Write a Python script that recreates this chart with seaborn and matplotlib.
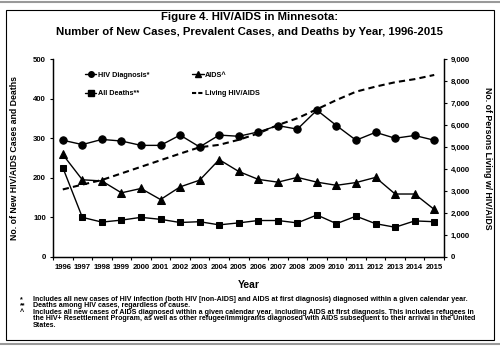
import matplotlib
matplotlib.use('Agg')
import matplotlib.pyplot as plt
from matplotlib.patches import Rectangle
from matplotlib.lines import Line2D
from matplotlib.ticker import FuncFormatter, MultipleLocator
import seaborn as sns
import pandas as pd
import numpy as np

years = list(range(1996, 2016))
hiv_diagnosis = [295, 284, 297, 293, 282, 282, 308, 278, 308, 305,
                 316, 332, 323, 371, 332, 295, 315, 300, 307, 295]
aids = [259, 195, 192, 162, 173, 145, 177, 194, 246, 216,
        196, 189, 201, 189, 181, 188, 201, 159, 159, 120]
all_deaths = [226, 100, 88, 93, 100, 95, 87, 89, 81, 86,
              92, 92, 86, 106, 84, 103, 84, 75, 91, 89]
living = [3070, 3290, 3500, 3800, 4100, 4400, 4700, 4990, 5100, 5330,
          5620, 6000, 6310, 6720, 7140, 7520, 7750, 7950, 8090, 8280]

df = pd.DataFrame({'year': years, 'hiv': hiv_diagnosis, 'aids': aids,
                   'deaths': all_deaths, 'living': living})

sns.set_style('white')
plt.rcParams['font.family'] = ['Liberation Sans', 'DejaVu Sans']
plt.rcParams['font.weight'] = 'bold'
for k in ['text.color', 'axes.labelcolor', 'xtick.color', 'ytick.color']:
    plt.rcParams[k] = 'black'

fig = plt.figure(figsize=(5, 3.5), dpi=100)
ax = fig.add_axes([0.106, 0.266, 0.782, 0.565])
ax2 = ax.twinx()

lw = 1.0
sns.lineplot(data=df, x='year', y='hiv', ax=ax, color='black', lw=lw,
             marker='o', markersize=5.3, markeredgecolor='black')
sns.lineplot(data=df, x='year', y='aids', ax=ax, color='black', lw=lw,
             marker='^', markersize=5.8, markeredgecolor='black')
sns.lineplot(data=df, x='year', y='deaths', ax=ax, color='black', lw=lw,
             marker='s', markersize=4.8, markeredgecolor='black')
sns.lineplot(data=df, x='year', y='living', ax=ax2, color='black', lw=1.5,
             linestyle=(0, (3, 2)))

ax.set_xlim(1995.5, 2015.5)
ax.set_ylim(0, 500)
ax2.set_ylim(0, 9000)
ax.set_xticks(years)
ax.set_xticklabels([str(y) for y in years], fontsize=5.6, fontweight='bold')
ax.xaxis.set_minor_locator(MultipleLocator(1, offset=0.5))
ax.tick_params(axis='x', which='major', length=0, pad=5)
ax.tick_params(axis='x', which='minor', length=2.5, width=0.8, direction='out', bottom=True)
ax.set_yticks(range(0, 501, 100))
ax.tick_params(axis='y', length=2, width=0.8, direction='out', left=True, labelsize=5.6, pad=3)
ax2.set_yticks(range(0, 9001, 1000))
ax2.yaxis.set_major_formatter(FuncFormatter(lambda v, p: f'{int(v):,}'))
ax2.tick_params(axis='y', length=2, width=0.8, direction='out', right=True, labelsize=5.6, pad=3)
for a in (ax, ax2):
    for lab in a.get_yticklabels():
        lab.set_fontweight('bold')

for a in (ax, ax2):
    a.spines['top'].set_visible(False)
    for s in a.spines.values():
        s.set_color('black')
        s.set_linewidth(0.9)

ax.set_xlabel('Year', fontsize=7.5, fontweight='bold')
ax.xaxis.set_label_coords(0.5, -0.115)
ax.set_ylabel('No. of New HIV/AIDS Cases and Deaths', fontsize=6.3, fontweight='bold',
              va='center')
ax.yaxis.set_label_coords(-0.098, 0.5)
ax2.set_ylabel('No. of Persons Living w/ HIV/AIDS', fontsize=6.3, fontweight='bold',
               rotation=270, va='center')
ax2.yaxis.set_label_coords(1.11, 0.5)

handles = [
    Line2D([], [], color='black', lw=lw, marker='o', markersize=4),
    Line2D([], [], color='black', lw=lw, marker='s', markersize=3.8),
    Line2D([], [], color='black', lw=lw, marker='^', markersize=4.5),
    Line2D([], [], color='black', lw=1.5, linestyle=(0, (2, 1))),
]
labels = ['HIV Diagnosis*', 'All Deaths**', 'AIDS^', 'Living HIV/AIDS']
leg = ax2.legend(handles, labels, ncol=2, frameon=False, fontsize=5.2,
                 loc='upper left', bbox_to_anchor=(0.065, 0.97),
                 handlelength=1.6, handletextpad=0.2, columnspacing=5.9,
                 labelspacing=1.6)
for t in leg.get_texts():
    t.set_fontweight('bold')
    t.set_color('black')

fig.text(0.5, 1 - 17 / 350, 'Figure 4. HIV/AIDS in Minnesota:', ha='center', va='center',
         fontsize=8.2, fontweight='bold')
fig.text(0.5, 1 - 32 / 350, 'Number of New Cases, Prevalent Cases, and Deaths by Year, 1996-2015',
         ha='center', va='center', fontsize=8.2, fontweight='bold')

notes = [
    ('*', 'Includes all new cases of HIV infection (both HIV [non-AIDS] and AIDS at first diagnosis) diagnosed within a given calendar year.'),
    ('**', 'Deaths among HIV cases, regardless of cause.'),
    ('^', 'Includes all new cases of AIDS diagnosed within a given calendar year, including AIDS at first diagnosis. This includes refugees in'),
    ('', 'the HIV+ Resettlement Program, as well as other refugee/immigrants diagnosed with AIDS subsequent to their arrival in the United'),
    ('', 'States.'),
]
for i, (sym, txt) in enumerate(notes):
    y = 1 - (299.5 + i * 6.4) / 350
    if sym:
        fig.text(20 / 500, y, sym, ha='left', va='center', fontsize=5.1, fontweight='bold')
    fig.text(33 / 500, y, txt, ha='left', va='center', fontsize=5.1, fontweight='bold')

fig.patches.append(Rectangle((6 / 500, 1 - 340 / 350), 488 / 500, 330 / 350,
                             transform=fig.transFigure, fill=False,
                             edgecolor='black', lw=0.8))
fig.lines.append(Line2D([0, 1], [1 - 1.5 / 350, 1 - 1.5 / 350], transform=fig.transFigure,
                        color='#999999', lw=1.5))
fig.lines.append(Line2D([0, 1], [1 - 344 / 350, 1 - 344 / 350], transform=fig.transFigure,
                        color='#999999', lw=1.5))

fig.savefig('out.png', dpi=100)
